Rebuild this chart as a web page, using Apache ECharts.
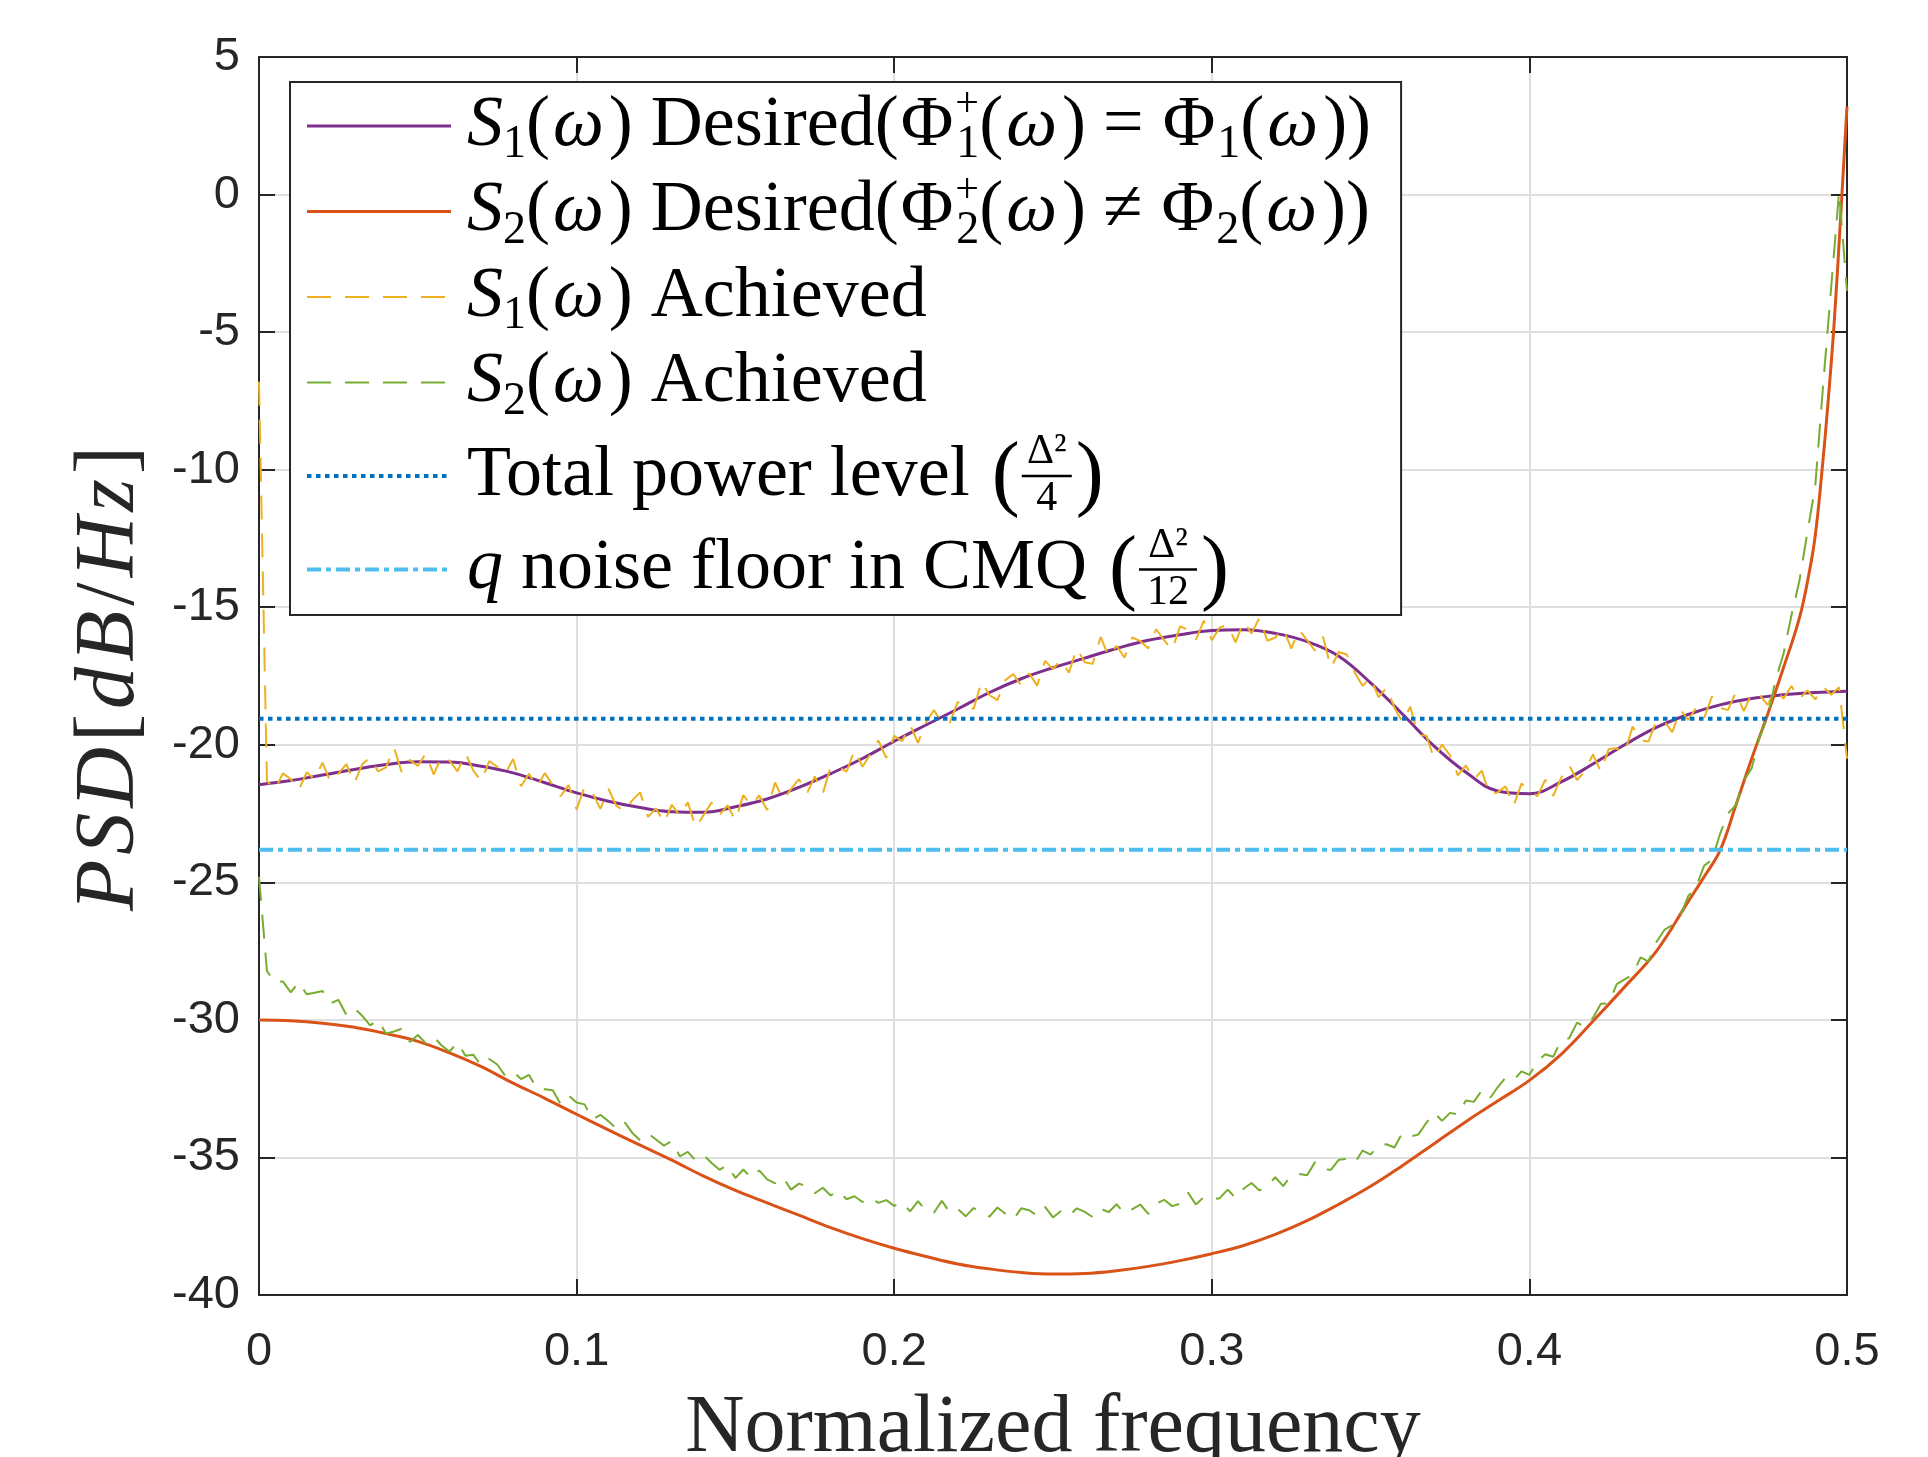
<!DOCTYPE html>
<html>
<head>
<meta charset="utf-8">
<script src="https://cdn.jsdelivr.net/npm/echarts@6/dist/echarts.min.js"></script>
<style>
html,body{margin:0;padding:0;background:#ffffff;}
#chart{width:1928px;height:1457px;}
</style>
</head>
<body>
<div id="chart"></div>
<script>
// ---------------- data ----------------
const xTicks = [0, 0.1, 0.2, 0.3, 0.4, 0.5];
const yTicks = [-40, -35, -30, -25, -20, -15, -10, -5, 0, 5];

const s1DesiredFreq = [0,0.01,0.02,0.03,0.04,0.05,0.06,0.07,0.08,0.09,0.10,0.11,0.12,0.13,0.14,0.15,0.16,0.17,0.18,0.19,0.20,
  0.21,0.22,0.23,0.24,0.25,0.26,0.27,0.28,0.29,0.30,0.31,0.32,0.33,0.34,0.35,0.36,0.37,0.38,0.39,0.40,
  0.41,0.42,0.43,0.44,0.45,0.46,0.47,0.48,0.49,0.50];
const s1Desired = [-21.45,-21.3,-21.1,-20.9,-20.72,-20.62,-20.63,-20.78,-21.02,-21.38,-21.75,-22.05,-22.28,-22.43,-22.45,-22.25,-21.97,-21.55,-21.05,-20.5,-19.87,
  -19.28,-18.7,-18.1,-17.6,-17.2,-16.85,-16.5,-16.2,-16.0,-15.85,-15.82,-15.95,-16.25,-16.78,-17.75,-18.88,-20.05,-21.0,-21.68,-21.78,
  -21.35,-20.7,-20.0,-19.37,-18.9,-18.55,-18.32,-18.18,-18.1,-18.05];

const s2DesiredFreq = [0,0.01,0.02,0.03,0.04,0.05,0.06,0.07,0.08,0.09,0.10,0.11,0.12,0.13,0.14,0.15,0.16,0.17,0.18,0.19,0.20,
  0.21,0.22,0.23,0.24,0.25,0.26,0.27,0.28,0.29,0.30,0.31,0.32,0.33,0.34,0.35,0.36,0.37,0.38,0.39,0.40,
  0.41,0.42,0.43,0.44,0.45,0.455,0.46,0.465,0.47,0.475,0.48,0.485,0.488,0.49,0.492,0.494,0.496,0.498,0.499,0.5];
const s2Desired = [-30.0,-30.03,-30.12,-30.27,-30.5,-30.78,-31.2,-31.7,-32.3,-32.85,-33.43,-34.0,-34.55,-35.1,-35.68,-36.2,-36.65,-37.1,-37.55,-37.95,-38.3,
  -38.6,-38.87,-39.05,-39.18,-39.24,-39.22,-39.12,-38.96,-38.75,-38.5,-38.2,-37.8,-37.3,-36.7,-36.05,-35.3,-34.5,-33.7,-32.95,-32.2,
  -31.25,-30.05,-28.8,-27.5,-25.7,-24.8,-23.85,-22.2,-20.5,-18.9,-17.2,-15.4,-13.8,-12.4,-10.2,-7.6,-4.6,-0.8,1.2,3.2];

// achieved spectra, one value every 0.0025 of normalized frequency (0 ... 0.5)
const achievedStep = 0.0025;
const s1Achieved = [-6.8,
  -21.31,-21.63,-21.04,-21.25,-21.65,-21.0,-21.25,-20.65,-21.35,-21.05,-20.7,-21.4,-20.71,-20.46,-20.97,-20.82,-20.1,-21.02,-20.55,-20.77,
  -20.32,-21.08,-20.43,-20.58,-20.97,-20.31,-20.94,-21.33,-20.59,-20.8,-21.06,-20.52,-21.51,-21.05,-21.54,-21.03,-21.47,-21.87,-21.46,-22.35,
  -21.53,-21.75,-22.33,-21.6,-22.21,-22.42,-22.02,-21.73,-22.62,-22.31,-22.84,-22.18,-22.59,-22.09,-23.0,-22.55,-22.1,-22.55,-22.2,-22.75,
  -21.83,-22.21,-21.84,-22.37,-21.37,-22.01,-21.61,-21.25,-21.78,-21.15,-21.78,-20.8,-20.81,-20.98,-20.19,-20.8,-20.34,-19.84,-20.48,-19.67,
  -19.87,-19.28,-19.93,-19.18,-18.74,-19.19,-19.2,-18.45,-18.5,-18.7,-17.7,-18.2,-18.38,-17.65,-17.43,-17.85,-17.4,-17.85,-16.95,-17.25,
  -16.91,-17.38,-16.49,-17.0,-17.06,-16.08,-16.79,-16.4,-16.83,-16.1,-16.23,-16.5,-15.8,-16.2,-16.55,-15.7,-15.81,-16.18,-15.49,-16.2,
  -15.74,-15.64,-16.28,-15.52,-15.95,-15.39,-16.22,-16.1,-15.78,-16.5,-15.83,-16.2,-16.58,-16.07,-17.2,-16.63,-16.72,-17.37,-17.86,-17.55,
  -18.28,-17.92,-18.65,-19.18,-18.62,-19.67,-19.66,-20.5,-19.99,-20.38,-21.11,-20.75,-21.27,-20.94,-21.81,-21.73,-21.51,-22.23,-21.41,-21.68,
  -21.87,-21.27,-21.86,-21.2,-20.74,-21.28,-20.96,-20.35,-20.98,-20.15,-20.13,-20.3,-19.34,-19.84,-19.88,-19.12,-19.15,-19.54,-18.72,-19.1,
  -18.66,-19.03,-18.24,-18.65,-18.74,-18.09,-18.78,-18.12,-18.19,-18.55,-17.97,-18.33,-17.86,-18.34,-18.02,-18.35,-17.89,-18.18,-17.91,
  -20.5];
const s2Achieved = [-24.8,
  -28.22,-28.65,-28.6,-29.0,-28.63,-29.07,-29.01,-28.95,-29.4,-29.27,-29.82,-29.58,-29.85,-30.2,-30.0,-30.5,-30.42,-30.32,-30.8,-30.55,
  -30.85,-30.62,-30.93,-31.15,-30.82,-31.3,-31.27,-31.67,-31.42,-31.62,-32.03,-31.88,-32.15,-32.0,-32.5,-32.52,-32.56,-33.07,-32.75,-33.0,
  -33.07,-33.62,-33.45,-33.68,-33.95,-33.7,-34.1,-34.38,-34.13,-34.35,-34.57,-34.4,-34.96,-34.8,-35.11,-34.92,-35.2,-35.45,-35.27,-35.75,
  -35.44,-35.75,-35.47,-35.8,-35.94,-35.72,-36.17,-35.95,-36.05,-36.3,-36.1,-36.38,-36.21,-36.52,-36.41,-36.62,-36.45,-36.65,-36.55,-36.76,
  -36.62,-36.96,-36.59,-36.93,-37.01,-36.58,-37.0,-36.87,-37.14,-36.84,-36.96,-37.15,-36.82,-37.05,-37.25,-36.85,-36.92,-37.12,-36.8,-37.18,
  -36.95,-37.12,-36.85,-36.98,-37.17,-36.86,-36.99,-36.7,-37.04,-36.88,-36.71,-37.05,-36.68,-36.54,-36.77,-36.68,-36.28,-36.71,-36.44,-36.53,
  -36.48,-36.17,-36.47,-36.14,-35.93,-36.2,-36.04,-35.72,-36.04,-35.65,-35.6,-35.65,-35.17,-35.43,-35.45,-35.08,-35.05,-35.2,-34.75,-34.9,
  -34.55,-34.52,-34.64,-34.11,-34.24,-34.17,-33.75,-33.37,-33.67,-33.38,-33.44,-32.93,-32.98,-32.57,-32.86,-32.45,-32.1,-32.2,-31.87,-32.0,
  -31.5,-31.25,-31.34,-30.75,-30.67,-30.1,-30.25,-29.93,-29.41,-29.4,-28.7,-28.53,-28.35,-27.73,-27.88,-27.17,-26.73,-26.55,-26.23,-25.5,
  -25.16,-24.4,-24.18,-23.25,-22.5,-22.2,-21.3,-20.85,-19.7,-19.0,-17.65,-16.7,-15.3,-14.05,-12.3,-10.6,-6.9,-3.4,0.1,
  -3.5];

const totalPowerLevel = -19.05;   // Δ²/4
const noiseFloorCMQ = -23.82;     // Δ²/12
const levelSpan = [0, 0.5];

const seriesNames = ['S1 Desired', 'S2 Desired', 'S1 Achieved', 'S2 Achieved', 'Total power level', 'q noise floor in CMQ'];

// ---------------- helpers ----------------
const pair = (xs, ys) => ys.map((v, i) => [xs[i], v]);
const onGrid = (ys, step) => ys.map((v, i) => [+(i * step).toFixed(4), v]);
const flat = (v) => levelSpan.map(x => [x, v]);

const serif = "'Liberation Serif', 'Times New Roman', serif";
const sans = "'Liberation Sans', Arial, Helvetica, sans-serif";
const axisColor = '#262626';
const gridColor = '#dfdfdf';
const FS = 72;

const legendText = {
  'S1 Desired': '{i|S}{sub|1}{n|(}{w|ω}{n|) Desired(}{P|Φ}{sup|+}{sub|1}{n|(}{w|ω}{n|)}{op|=}{P|Φ}{sub|1}{n|(}{w|ω}{n|))}',
  'S2 Desired': '{i|S}{sub|2}{n|(}{w|ω}{n|) Desired(}{P|Φ}{sup|+}{sub|2}{n|(}{w|ω}{n|)}{op|≠}{P|Φ}{sub|2}{n|(}{w|ω}{n|))}',
  'S1 Achieved': '{i|S}{sub|1}{n|(}{w|ω}{n|) Achieved}',
  'S2 Achieved': '{i|S}{sub|2}{n|(}{w|ω}{n|) Achieved}',
  'Total power level': '{t5|Total power level}',
  'q noise floor in CMQ': '{q6|q}{t6| noise floor in CMQ}'
};

// legend geometry
const LG = {left: 290, top: 82, padT: 2, padR: 30, padB: 3.5, padL: 15, iconW: 144, gap: 1.5, textPad: 11, h: 84, h5: 100, h6: 84};
const textStartX = LG.left + LG.padL + LG.iconW + 5 + LG.textPad;
const row5Y = LG.top + LG.padT + 4 * LG.h + 4 * LG.gap + LG.h5 / 2;
const row6Y = row5Y + LG.h5 / 2 + LG.gap + LG.h6 / 2;

const mctx = document.createElement('canvas').getContext('2d');
function textWidth(t, font) { mctx.font = font; return mctx.measureText(t).width; }
const end5 = textStartX + textWidth('Total power level', FS + 'px ' + serif);
const end6 = textStartX + textWidth('q', 'italic ' + FS + 'px ' + serif) + textWidth(' noise floor in CMQ', FS + 'px ' + serif);

function fraction(x0, yc, den, barW) {
  const pw = 28;
  const cx = x0 + pw + 2 + barW / 2;
  const txt = (x, y, s, size, align, va) => ({
    type: 'text', x: x, y: y, z: 100, silent: true,
    style: {text: s, font: size + 'px ' + serif, fill: '#000', align: align, verticalAlign: va,
            textAlign: align, textVerticalAlign: va}
  });
  return [
    txt(x0, yc + 2, '(', 84, 'left', 'middle'),
    {type: 'line', z: 100, silent: true, shape: {x1: x0 + pw + 2, y1: yc, x2: x0 + pw + 2 + barW, y2: yc},
     style: {stroke: '#000', lineWidth: 2.5}},
    txt(cx, yc - 3, 'Δ²', 42, 'center', 'bottom'),
    txt(cx, yc + 2, den, 42, 'center', 'top'),
    txt(x0 + pw + 6 + barW, yc + 2, ')', 84, 'left', 'middle')
  ];
}

const chart = echarts.init(document.getElementById('chart'), null, {renderer: 'canvas'});

const commonAxisLine = {show: true, onZero: false, lineStyle: {color: axisColor, width: 2}};
const commonTick = {show: true, inside: true, length: 16, lineStyle: {color: axisColor, width: 2}};

const option = {
  animation: false,
  backgroundColor: '#ffffff',
  grid: {left: 259, top: 57, right: 81, bottom: 162, containLabel: false, outerBoundsMode: 'none'},
  xAxis: [
    {
      type: 'value', min: xTicks[0], max: xTicks[xTicks.length - 1], interval: 0.1, position: 'bottom',
      axisLine: commonAxisLine, axisTick: commonTick,
      axisLabel: {color: axisColor, fontFamily: sans, fontSize: 47, margin: 34,
                  formatter: v => String(+v.toFixed(1))},
      splitLine: {show: true, lineStyle: {color: gridColor, width: 2}},
      name: 'Normalized frequency', nameLocation: 'middle', nameGap: 93,
      nameTextStyle: {fontFamily: serif, fontSize: 82, color: axisColor}
    },
    {
      type: 'value', min: xTicks[0], max: xTicks[xTicks.length - 1], interval: 0.1, position: 'top',
      axisLine: commonAxisLine, axisTick: commonTick, axisLabel: {show: false}, splitLine: {show: false}
    }
  ],
  yAxis: [
    {
      type: 'value', min: yTicks[0], max: yTicks[yTicks.length - 1], interval: 5, position: 'left',
      axisLine: commonAxisLine, axisTick: commonTick,
      axisLabel: {color: axisColor, fontFamily: sans, fontSize: 47, margin: 19},
      splitLine: {show: true, lineStyle: {color: gridColor, width: 2}},
      name: '{a|P}{a|S}{a|D}{b|[}{a|d}{a|B}{b|/}{a|H}{a|z}{b|]}',
      nameLocation: 'middle', nameGap: 106,
      nameTextStyle: {
        fontFamily: serif, fontSize: 84, color: axisColor,
        rich: {
          a: {fontFamily: serif, fontSize: 84, fontStyle: 'italic', color: axisColor, padding: [0, 5, 0, 0]},
          b: {fontFamily: serif, fontSize: 84, color: axisColor, padding: [0, 5, 0, 0]}
        }
      }
    },
    {
      type: 'value', min: yTicks[0], max: yTicks[yTicks.length - 1], interval: 5, position: 'right',
      axisLine: commonAxisLine, axisTick: commonTick, axisLabel: {show: false}, splitLine: {show: false}
    }
  ],
  legend: {
    orient: 'vertical', left: LG.left, top: LG.top,
    padding: [LG.padT, LG.padR, LG.padB, LG.padL],
    itemWidth: LG.iconW, itemHeight: 20, itemGap: LG.gap,
    backgroundColor: '#ffffff', borderColor: axisColor, borderWidth: 2, borderRadius: 0,
    selectedMode: false,
    itemStyle: {opacity: 0},
    lineStyle: {width: 'inherit'},
    data: seriesNames,
    formatter: name => legendText[name],
    textStyle: {
      color: '#000', fontFamily: serif, fontSize: FS, lineHeight: LG.h, padding: [0, 0, 0, LG.textPad],
      rich: {
        n: {fontFamily: serif, fontSize: FS, lineHeight: LG.h, color: '#000'},
        i: {fontFamily: serif, fontSize: FS, lineHeight: LG.h, fontStyle: 'italic', color: '#000'},
        w: {fontFamily: serif, fontSize: FS, lineHeight: LG.h, fontStyle: 'italic', color: '#000', padding: [0, 5, 0, 3]},
        P: {fontFamily: serif, fontSize: FS, lineHeight: LG.h, color: '#000', padding: [0, 2, 0, 2]},
        op: {fontFamily: serif, fontSize: FS, lineHeight: LG.h, color: '#000', padding: [0, 17, 0, 17]},
        sub: {fontFamily: serif, fontSize: 46, lineHeight: 40, verticalAlign: 'bottom', color: '#000'},
        sup: {fontFamily: serif, fontSize: 42, lineHeight: 28, verticalAlign: 'top', width: 1, color: '#000'},
        t5: {fontFamily: serif, fontSize: FS, lineHeight: LG.h5, color: '#000'},
        q6: {fontFamily: serif, fontSize: FS, lineHeight: LG.h6, fontStyle: 'italic', color: '#000'},
        t6: {fontFamily: serif, fontSize: FS, lineHeight: LG.h6, color: '#000'}
      }
    }
  },
  graphic: [].concat(
    fraction(end5 + 24, row5Y, '4', 50),
    fraction(end6 + 24, row6Y, '12', 58)
  ),
  series: [
    {name: seriesNames[0], type: 'line', symbol: 'none', smooth: 0.4,
     data: pair(s1DesiredFreq, s1Desired), lineStyle: {color: '#7E2F8E', width: 3}, itemStyle: {color: '#7E2F8E'}},
    {name: seriesNames[1], type: 'line', symbol: 'none', smooth: 0.4,
     data: pair(s2DesiredFreq, s2Desired), lineStyle: {color: '#D95319', width: 3}, itemStyle: {color: '#D95319'}},
    {name: seriesNames[2], type: 'line', symbol: 'none',
     data: onGrid(s1Achieved, achievedStep), lineStyle: {color: '#EDB120', width: 2, type: [24, 14]}, itemStyle: {color: '#EDB120'}},
    {name: seriesNames[3], type: 'line', symbol: 'none',
     data: onGrid(s2Achieved, achievedStep), lineStyle: {color: '#77AC30', width: 2, type: [24, 14]}, itemStyle: {color: '#77AC30'}},
    {name: seriesNames[4], type: 'line', symbol: 'none',
     data: flat(totalPowerLevel), lineStyle: {color: '#0072BD', width: 4, type: [4.5, 4.5]}, itemStyle: {color: '#0072BD'}},
    {name: seriesNames[5], type: 'line', symbol: 'none',
     data: flat(noiseFloorCMQ), lineStyle: {color: '#4DBEEE', width: 4, type: [14, 5, 5, 5]}, itemStyle: {color: '#4DBEEE'}}
  ]
};

chart.setOption(option);
</script>
</body>
</html>
